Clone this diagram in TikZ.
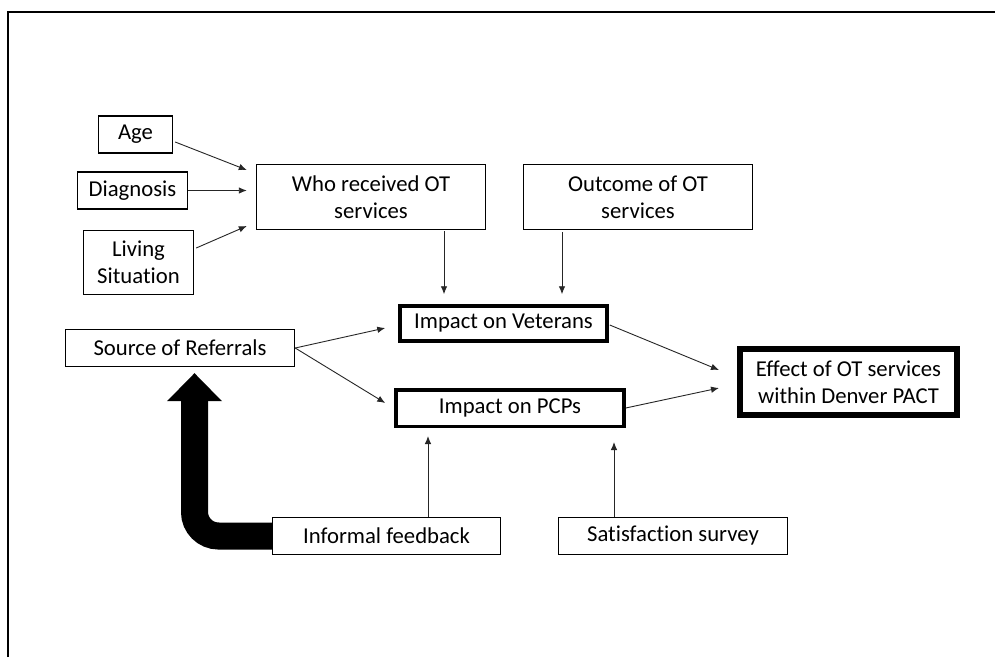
\documentclass[tikz,border=0pt]{standalone}
\usepackage{fontspec}
\setmainfont{Carlito}[Ligatures=NoCommon]
\usetikzlibrary{arrows.meta,calc}
\begin{document}
\begin{tikzpicture}[x=1pt,y=-1pt,
  every node/.style={font=\fontsize{22.7}{27}\selectfont, align=center, inner sep=0pt},
  box/.style={draw, line width=1.4pt, minimum width=#1},
  thickbox/.style={draw, line width=3.5pt, minimum width=#1},
  heavybox/.style={draw, line width=6pt, minimum width=#1},
  arr/.style={draw, line width=0.9pt, -{Latex[length=8pt,width=6.5pt]}, color=black!85}
]
\useasboundingbox (0,0) rectangle (995,657);
\fill[white] (0,0) rectangle (995,657);
\draw[line width=2pt] (8,657) -- (8,12) -- (995,12);

\node[box=74, minimum height=37] (age) at (135.5,134.5) {Age};
\node[box=110, minimum height=37] (diag) at (132.5,190.5) {Diagnosis};
\node[box=110, minimum height=64] (living) at (138.5,262.5) {Living\\Situation};
\node[box=229, minimum height=65] (who) at (371,197) {Who received OT\\services};
\node[box=229, minimum height=65] (outcome) at (638,197) {Outcome of OT\\services};
\node[thickbox=207, minimum height=35] (vet) at (503.5,323.5) {Impact on Veterans};
\node[thickbox=228, minimum height=36.5] (pcp) at (510,408) {Impact on PCPs};
\node[heavybox=217, minimum height=66] (effect) at (848.5,382) {Effect of OT services\\within Denver PACT};
\node[box=229, minimum height=37] (source) at (180,348) {Source of Referrals};
\node[box=228, minimum height=37] (informal) at (386.5,536) {Informal feedback};
\node[box=229, minimum height=37] (satis) at (673,536) {Satisfaction survey};

\draw[arr] ($(age.east)+(2,7.5)$) -- ($(who.west)+(-9,-27)$);
\draw[arr] (diag.east) -- ($(who.west)+(-9,-6.5)$);
\draw[arr] ($(living.east)+(2,-14.5)$) -- ($(who.west)+(-9,29)$);
\draw[arr] ($(who.south)+(73,1)$) -- ($(vet.north)+(-59.5,-10)$);
\draw[arr] ($(outcome.south)+(-76,2)$) -- ($(vet.north)+(58.5,-10)$);
\draw[arr] (source.east) -- ($(vet.west)+(-13,4.5)$);
\draw[arr] (source.east) -- ($(pcp.west)+(-9,-5)$);
\draw[arr] ($(vet.east)+(1,1.5)$) -- ($(effect.west)+(-18,-12)$);
\draw[arr] (pcp.east) -- ($(effect.west)+(-18,6)$);
\draw[arr] ($(informal.north)+(41.5,0)$) -- ($(pcp.south)+(-82,8)$);
\draw[arr] ($(satis.north)+(-59,0)$) -- ($(pcp.south)+(104,14)$);

\coordinate (tip) at ($(source.south)+(14.5,6)$);
\draw[line width=27pt, rounded corners=24pt] ($(informal.west)+(0.5,0)$) -| ($(tip)+(0,27)$);
\fill ($(tip)+(-27.5,28)$) -- ($(tip)+(27.5,28)$) -- (tip) -- cycle;
\end{tikzpicture}
\end{document}
